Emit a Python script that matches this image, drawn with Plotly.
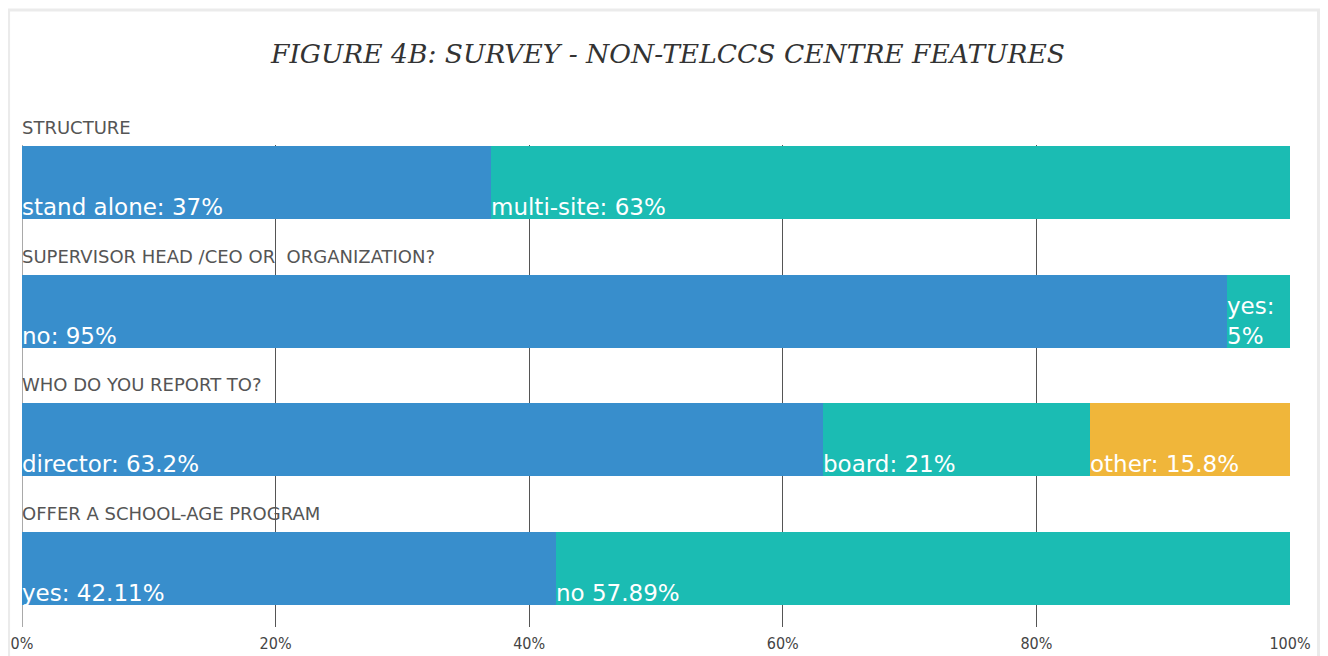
import plotly.graph_objects as go

categories = ["STRUCTURE", "SUPERVISOR HEAD /CEO OR&nbsp; ORGANIZATION?",
              "WHO DO YOU REPORT TO?", "OFFER A SCHOOL-AGE PROGRAM"]
seg1_values = [37, 95, 63.2, 42.11]
seg2_values = [63, 5, 21, 57.89]
seg3_values = [0, 0, 15.8, 0]
seg1_labels = ["stand alone: 37%", "no: 95%", "director: 63.2%", "yes: 42.11%"]
seg2_labels = ["multi-site: 63%", "yes:<br>5%", "board: 21%", "no 57.89%"]
seg3_labels = ["", "", "other: 15.8%", ""]
tick_values = [0, 20, 40, 60, 80, 100]
tick_labels = ["0%", "20%", "40%", "60%", "80%", "100%"]

colors = ["#388ECC", "#1BBCB3", "#F0B63A"]
rows = list(range(len(categories)))
BAR_W = 0.567

fig = go.Figure()
for vals, col in zip([seg1_values, seg2_values, seg3_values], colors):
    fig.add_trace(go.Bar(
        y=rows, x=vals, orientation="h", width=BAR_W,
        marker=dict(color=col, line=dict(width=0)),
        hoverinfo="skip", showlegend=False,
    ))

annotations = []
for i in rows:
    start = 0
    for vals, labs in zip([seg1_values, seg2_values, seg3_values],
                          [seg1_labels, seg2_labels, seg3_labels]):
        if vals[i] > 0 and labs[i]:
            annotations.append(dict(
                x=start, y=i + BAR_W / 2, xref="x", yref="y",
                text=labs[i], showarrow=False, xanchor="left", yanchor="bottom",
                align="left", xshift=-2, yshift=-3,
                font=dict(family="DejaVu Sans", size=23, color="white"),
            ))
        start += vals[i]
    annotations.append(dict(
        x=0, y=i - BAR_W / 2, xref="x", yref="y",
        text=categories[i], showarrow=False, xanchor="left", yanchor="bottom",
        xshift=-2, yshift=6,
        font=dict(family="DejaVu Sans", size=18, color="#555555"),
    ))

fig.update_layout(
    width=1320, height=648,
    barmode="stack",
    paper_bgcolor="white", plot_bgcolor="white",
    margin=dict(l=14, r=38, t=137, b=29, autoexpand=False),
    title=dict(
        text="<i>FIGURE 4B: SURVEY - NON-TELCCS CENTRE FEATURES</i>",
        x=(668 - 8) / 1320, xanchor="center", y=1 - 46 / 648, yanchor="middle",
        font=dict(family="DejaVu Serif", size=26.5, color="#333333"),
    ),
    xaxis=dict(
        range=[0, 100], tickvals=tick_values, ticktext=tick_labels,
        showgrid=True, gridcolor="#555555", gridwidth=1,
        zeroline=False, showline=False, ticks="", automargin=False,
        ticklabelstandoff=5,
        tickfont=dict(family="DejaVu Sans Condensed", size=16, color="#444444"),
        fixedrange=True,
    ),
    yaxis=dict(
        range=[3.455, -0.291], showgrid=False, zeroline=False, automargin=False,
        showticklabels=False, ticks="", fixedrange=True,
    ),
    annotations=annotations,
    shapes=[dict(
        type="rect", xref="paper", yref="paper",
        x0=-0.0106, x1=1.0225, y0=-0.09, y1=1.28,
        line=dict(color="#EBEBEB", width=3), fillcolor="rgba(0,0,0,0)",
        layer="below",
    ), dict(
        type="line", xref="x", yref="paper", x0=0, x1=0, y0=0, y1=1,
        line=dict(color="#555555", width=1), layer="below",
    )],
)

fig.write_html("out.html")
